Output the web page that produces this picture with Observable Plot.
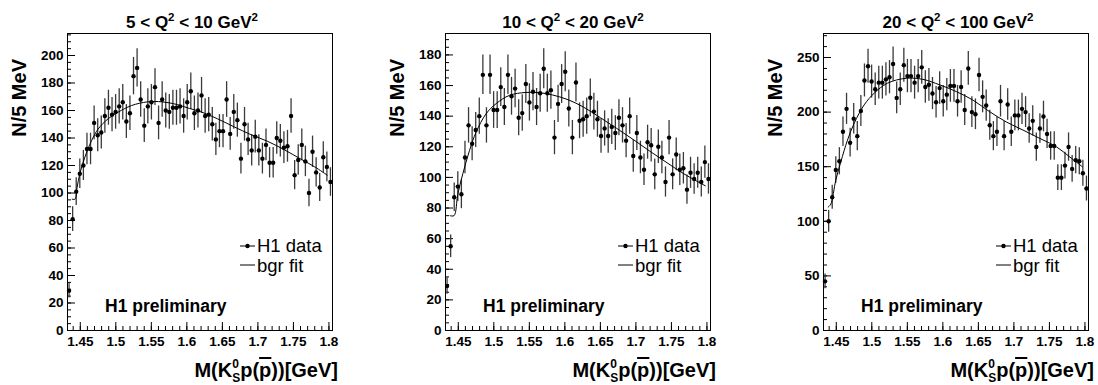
<!DOCTYPE html>
<html><head><meta charset="utf-8">
<script src="https://cdn.jsdelivr.net/npm/d3@7"></script>
<script src="https://cdn.jsdelivr.net/npm/@observablehq/plot@0.6"></script>
<style>
body{margin:0;background:#fff;}
#wrap{position:relative;width:1098px;height:385px;overflow:hidden;background:#fff;}
#wrap svg{position:absolute;top:0;}
</style></head><body><div id="wrap"></div>
<script>
// ---- data ----
const q2Low = ["5", "10", "20"];
const q2High = ["10", "20", "100"];

const massFirst = 1.4342;   // centre of first 5 MeV bin
const massStep = 0.00504;

const counts1 = [29,81,101,114,120,132,132,151,142,144,156,162,157,159,163,166,152,158,185,191,168,149,163,166,177,151,168,160,159,162,162,163,156,166,174,158,160,171,156,157,150,139,145,145,168,143,159,153,125,150,139,131,141,131,125,135,122,122,140,138,133,134,156,113,124,135,123,100,130,115,104,126,119,108];
const counts2 = [29,55,87,94,89,113,134,122,131,140,167,134,167,144,144,159,146,167,153,158,139,142,161,149,156,146,155,171,155,157,126,148,161,169,145,126,162,137,138,140,152,143,138,127,132,127,133,129,139,134,124,140,114,129,113,105,123,121,102,120,113,97,126,102,115,105,106,92,103,99,103,97,110,99];
const counts3 = [45,100,122,147,155,182,203,172,194,178,201,229,242,228,221,227,227,230,232,244,213,221,243,233,233,227,233,241,223,225,217,209,222,210,216,224,224,210,223,202,240,200,198,234,214,206,188,178,182,210,178,207,182,197,197,203,200,185,192,168,185,196,180,169,169,140,140,151,168,148,156,155,144,130];

const fitMass1 = [1.4386,1.4425,1.4455,1.4493,1.4564,1.4658,1.4751,1.4892,1.5033,1.5221,1.545,1.565,1.585,1.6035,1.62,1.643,1.667,1.69,1.714,1.737,1.761,1.78,1.7975];
const fitVal1  = [95.5,95.5,104,114,126,138,146.5,154,158.8,163.6,166.3,166.3,164.5,161.5,159,154,148,142.5,137.5,131.5,124.5,119,113];
const fitMass2 = [1.4385,1.444,1.4493,1.4564,1.4658,1.4751,1.4892,1.5033,1.5221,1.545,1.565,1.583,1.603,1.626,1.65,1.673,1.697,1.72,1.744,1.767,1.7977];
const fitVal2  = [75,75,89,102.4,117.6,129.6,141.6,148.2,153.6,155.5,155.3,153.8,151,146,139,132,124.5,117,109.5,102.5,94.5];
const fitMass3 = [1.4386,1.4423,1.4493,1.4564,1.4658,1.4751,1.4892,1.5033,1.5221,1.5484,1.572,1.5954,1.6189,1.6423,1.6658,1.6893,1.7127,1.7362,1.7597,1.7785,1.7963];
const fitVal3  = [113,115.7,137.7,154.5,174.4,189.7,206.6,217.3,226.5,231,230,225,218.8,211,200.4,191,183.6,176,168.3,159,150];

const yTop = [216, 194, 272];
const yMajor1 = [0,20,40,60,80,100,120,140,160,180,200];
const yMajor2 = [0,20,40,60,80,100,120,140,160,180];
const yMajor3 = [0,50,100,150,200,250];
const yMinorStep = [5, 5, 10];
const xDomain = [1.432, 1.805];
const xMajor = [1.45,1.5,1.55,1.6,1.65,1.7,1.75,1.8];
const xTickLabels = ["1.45","1.5","1.55","1.6","1.65","1.7","1.75","1.8"];

const legendLabels = ["H1 data", "bgr fit"];
const yTitle = "N/5 MeV";
const stamp = "H1 preliminary";

// ---- drawing ----
const allCounts = [counts1, counts2, counts3];
const allFitM = [fitMass1, fitMass2, fitMass3];
const allFitV = [fitVal1, fitVal2, fitVal3];
const allYMajor = [yMajor1, yMajor2, yMajor3];
const svgLeft = [0, 378, 756];
const svgWidth = [366, 366, 342];
const titleX = [192, 195, 202];
const ML = 67, FW = 265, MT = 33, MB = 55, H = 385;
const FH = H - MT - MB;
const FONT = "'Liberation Sans', Arial, Helvetica, sans-serif";

const wrap = document.getElementById("wrap");

function txt(s, x, y, size, weight, anchor) {
  return s.append("text").attr("x", x).attr("y", y).attr("font-size", size)
    .attr("font-weight", weight).attr("font-family", FONT).attr("fill", "#000")
    .attr("text-anchor", anchor);
}

for (let i = 0; i < 3; i++) {
  const counts = allCounts[i];
  const rows = counts.map((n, j) => ({m: massFirst + j * massStep, n, lo: n - Math.sqrt(n), hi: n + Math.sqrt(n)}));
  const fit = allFitM[i].map((m, j) => ({m, v: allFitV[i][j]}));
  const yMajor = allYMajor[i];
  const yMinor = d3.range(0, yTop[i], yMinorStep[i]);
  const xMinor = d3.range(1.44, 1.8005, 0.01).map(d => +d.toFixed(3));
  const W = svgWidth[i];

  const svg = Plot.plot({
    width: W, height: H,
    marginLeft: ML, marginRight: W - ML - FW, marginTop: MT, marginBottom: MB,
    x: {domain: xDomain},
    y: {domain: [0, yTop[i]]},
    style: `font-family:${FONT};font-size:13.5px;font-weight:bold;color:#000;background:#fff;overflow:visible;`,
    marks: [
      Plot.tickY(yMinor, {y: d => d, insetRight: FW - 4, stroke: "#000"}),
      Plot.tickY(yMajor, {y: d => d, insetRight: FW - 8, stroke: "#000"}),
      Plot.tickX(xMinor, {x: d => d, insetTop: FH - 4, stroke: "#000"}),
      Plot.tickX(xMajor, {x: d => d, insetTop: FH - 8, stroke: "#000"}),
      Plot.axisY({ticks: yMajor, tickSize: 0, tickPadding: 4, label: null, tickFormat: d => String(d)}),
      Plot.axisX({ticks: xMajor, tickSize: 0, tickPadding: 6, label: null, tickFormat: d => xTickLabels[xMajor.indexOf(d)]}),
      Plot.ruleX(rows, {x: "m", y1: "lo", y2: "hi", stroke: "#3a3a3a", strokeWidth: 1.3}),
      Plot.line(fit, {x: "m", y: "v", curve: "catmull-rom", stroke: "#000", strokeWidth: 1}),
      Plot.dot(rows, {x: "m", y: "n", r: 2.2, fill: "#000", stroke: "none"}),
      Plot.frame({stroke: "#000", strokeWidth: 1})
    ]
  });
  svg.style.left = svgLeft[i] + "px";
  wrap.appendChild(svg);

  const s = d3.select(svg);
  // title
  const t = txt(s, titleX[i], 28, 17, "bold", "middle");
  t.append("tspan").text(`${q2Low[i]} < Q`);
  t.append("tspan").attr("dy", -7).attr("font-size", 11.5).text("2");
  t.append("tspan").attr("dy", 7).text(` < ${q2High[i]} GeV`);
  t.append("tspan").attr("dy", -7).attr("font-size", 11.5).text("2");

  // y title
  s.append("text").attr("transform", "translate(26,59) rotate(-90)").attr("text-anchor", "end")
    .attr("font-size", 20).attr("font-weight", "bold").attr("font-family", FONT).attr("fill", "#000").text(yTitle);

  // x title: M(K^0_S p(p̄))[GeV]
  const xl = txt(s, 338, 377, 20, "bold", "end");
  xl.append("tspan").text("M(K");
  xl.append("tspan").attr("font-size", 12).attr("dy", -9).text("0");
  xl.append("tspan").attr("font-size", 12).attr("dx", -6.7).attr("dy", 14).text("S");
  xl.append("tspan").attr("dy", -5).text("p(");
  xl.append("tspan").attr("text-decoration", "overline").style("text-decoration", "overline").text("p");
  xl.append("tspan").text("))[GeV]");

  // legend
  s.append("line").attr("x1", 240).attr("x2", 255).attr("y1", 246).attr("y2", 246).attr("stroke", "#000");
  s.append("circle").attr("cx", 247.5).attr("cy", 246).attr("r", 2.2).attr("fill", "#000");
  txt(s, 257, 252, 18.5, "normal", "start").text(legendLabels[0]);
  s.append("line").attr("x1", 240).attr("x2", 255).attr("y1", 265).attr("y2", 265).attr("stroke", "#000");
  txt(s, 257, 271.5, 18.5, "normal", "start").text(legendLabels[1]);

  // stamp
  txt(s, 105, 312, 17.5, "bold", "start").text(stamp);
}
</script>
</body></html>
